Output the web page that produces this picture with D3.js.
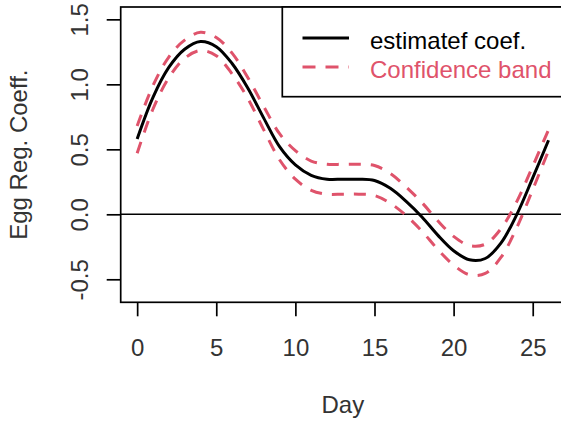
<!DOCTYPE html>
<html>
<head>
<meta charset="utf-8">
<script src="https://cdn.jsdelivr.net/npm/d3@7"></script>
<style>
  body { margin: 0; background: #fff; }
  text { font-family: "Liberation Sans", Arial, sans-serif; }
</style>
</head>
<body>
<svg></svg>
<script>
// days of the fitted curve
var days = [0, 1, 2, 3, 4, 5, 6, 7, 8, 9, 10, 11, 12, 13, 14, 15, 16, 17, 18, 19, 20, 21, 22, 23, 24, 25, 26];
// estimated coefficient
var estimate = [0.58, 0.90, 1.13, 1.27, 1.33, 1.29, 1.16, 0.97, 0.74, 0.52, 0.38, 0.30, 0.27, 0.27, 0.27, 0.26, 0.20, 0.10, -0.02, -0.16, -0.28, -0.35, -0.34, -0.22, 0.00, 0.28, 0.57];
// upper and lower confidence band
var upper = [0.68, 0.99, 1.21, 1.34, 1.40, 1.36, 1.24, 1.05, 0.83, 0.62, 0.49, 0.41, 0.385, 0.385, 0.385, 0.375, 0.315, 0.21, 0.09, -0.05, -0.17, -0.24, -0.23, -0.11, 0.10, 0.37, 0.65];
var lower = [0.47, 0.81, 1.05, 1.20, 1.26, 1.22, 1.08, 0.89, 0.65, 0.42, 0.27, 0.185, 0.155, 0.155, 0.155, 0.145, 0.085, -0.01, -0.13, -0.27, -0.39, -0.465, -0.455, -0.33, -0.10, 0.19, 0.49];
// tick labels
var xTicks = [0, 5, 10, 15, 20, 25];
var yTicks = [-0.5, 0.0, 0.5, 1.0, 1.5];
var legendLabels = ["estimatef coef.", "Confidence band"];

var width = 561;
var height = 425;
var bandColor = "#DF536B";
var fontSize = 24;

// plot region (the box runs a little past the right edge)
var plotLeft = 120.7, plotRight = 565, plotTop = 7, plotBottom = 302.3;

var x = d3.scaleLinear().domain([-1.04, 27.04]).range([plotLeft, plotRight]);
var y = d3.scaleLinear().domain([-0.677, 1.595]).range([plotBottom, plotTop]);

var svg = d3.select("svg").attr("width", width).attr("height", height);

// clip the curves to the plot box
svg.append("clipPath").attr("id", "plotclip")
  .append("rect")
  .attr("x", plotLeft).attr("y", plotTop)
  .attr("width", plotRight - plotLeft).attr("height", plotBottom - plotTop);

var plot = svg.append("g").attr("clip-path", "url(#plotclip)");

// horizontal reference line at zero
plot.append("line")
  .attr("x1", plotLeft).attr("x2", plotRight)
  .attr("y1", y(0)).attr("y2", y(0))
  .attr("stroke", "#000").attr("stroke-width", 1.4);

// smooth curve through the read points
function makeLine(vals) {
  return d3.line()
    .x((d, i) => x(days[i]))
    .y(d => y(d))
    .curve(d3.curveCatmullRom.alpha(0.5))(vals);
}

// confidence band, dashed
[upper, lower].forEach(function(vals) {
  plot.append("path")
    .attr("d", makeLine(vals))
    .attr("fill", "none")
    .attr("stroke", bandColor)
    .attr("stroke-width", 3)
    .attr("stroke-dasharray", "12,10");
});

// estimate, solid black
plot.append("path")
  .attr("d", makeLine(estimate))
  .attr("fill", "none")
  .attr("stroke", "#000")
  .attr("stroke-width", 3);

// box around the plot
svg.append("rect")
  .attr("x", plotLeft).attr("y", plotTop)
  .attr("width", plotRight - plotLeft).attr("height", plotBottom - plotTop)
  .attr("fill", "none").attr("stroke", "#000").attr("stroke-width", 1.7);

// x axis ticks and labels
var xAxis = d3.axisBottom(x).tickValues(xTicks).tickSize(14).tickPadding(0).tickFormat(d3.format("d"));
var gx = svg.append("g").attr("transform", "translate(0," + plotBottom + ")").call(xAxis);
gx.select(".domain").remove();
gx.selectAll(".tick line").attr("stroke-width", 1.7);
gx.selectAll(".tick text")
  .attr("y", 54.2).attr("dy", null)
  .attr("font-size", fontSize).attr("font-family", null).attr("fill", "#333");

// y axis ticks and rotated labels (plain hyphen for the minus, like R)
var yAxis = d3.axisLeft(y).tickValues(yTicks).tickSize(14).tickFormat(d => d.toFixed(1));
var gy = svg.append("g").attr("transform", "translate(" + plotLeft + ",0)").call(yAxis);
gy.select(".domain").remove();
gy.selectAll(".tick line").attr("stroke-width", 1.7);
gy.selectAll(".tick text")
  .attr("x", null).attr("dy", null)
  .attr("transform", "translate(-33,0) rotate(-90)")
  .attr("text-anchor", "middle")
  .attr("font-size", fontSize).attr("font-family", null).attr("fill", "#333");

// axis titles
svg.append("text")
  .attr("x", (plotLeft + plotRight) / 2).attr("y", 413)
  .attr("text-anchor", "middle").attr("font-size", fontSize).attr("fill", "#333")
  .text("Day");
svg.append("text")
  .attr("transform", "translate(27," + (plotTop + plotBottom) / 2 + ") rotate(-90)")
  .attr("text-anchor", "middle").attr("font-size", fontSize).attr("fill", "#333")
  .text("Egg Reg. Coeff.");

// legend in the top right corner
var legend = svg.append("g");
legend.append("rect")
  .attr("x", 282.3).attr("y", plotTop)
  .attr("width", 300).attr("height", 96.7 - plotTop)
  .attr("fill", "#fff").attr("stroke", "#000").attr("stroke-width", 1.7);

var rows = legend.selectAll(".row")
  .data(legendLabels)
  .enter()
  .append("g")
  .attr("transform", (d, i) => "translate(0," + (38 + i * 29) + ")");
rows.append("line")
  .attr("x1", 302.5).attr("x2", 349)
  .attr("stroke", (d, i) => i === 0 ? "#000" : bandColor)
  .attr("stroke-width", 3)
  .attr("stroke-dasharray", (d, i) => i === 0 ? null : "13,10");
rows.append("text")
  .attr("x", 370).attr("y", 10.5)
  .attr("font-size", fontSize)
  .attr("fill", (d, i) => i === 0 ? "#000" : bandColor)
  .text(d => d);
</script>
</body>
</html>
